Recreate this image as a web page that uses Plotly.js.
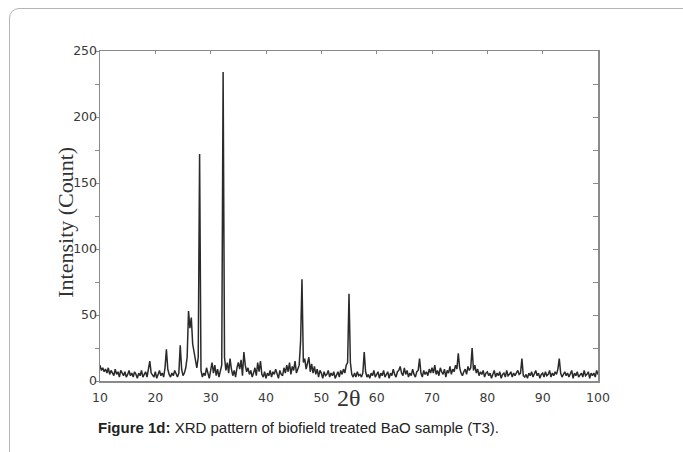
<!DOCTYPE html>
<html>
<head>
<meta charset="utf-8">
<script src="https://cdn.plot.ly/plotly-3.0.1.min.js"></script>
<style>
  html, body { margin: 0; padding: 0; background: #fff; overflow: hidden; }
  #wrap { position: relative; width: 683px; height: 452px; }
  #chart { position: absolute; left: 0; top: 0; width: 683px; height: 452px; }
  #card { position: absolute; left: 9px; top: 8px; width: 760px; height: 520px;
          border: 1px solid #b5b5b5; border-radius: 10px; pointer-events: none; }
</style>
</head>
<body>
<div id="wrap">
  <div id="chart"></div>
  <div id="card"></div>
</div>
<script>
// 2θ sampling: start and step of the measured pattern (degrees)
const twoThetaStart = 10;
const twoThetaStep = 0.25;

// Intensity (Count), one row per degree (x.00, x.25, x.50, x.75)
const intensity = [
  12, 8, 10, 7,     // 10
  9, 6, 10, 5,      // 11
  8, 6, 4, 9,       // 12
  5, 7, 3, 8,       // 13
  6, 4, 7, 3,       // 14
  5, 8, 4, 6,       // 15
  3, 7, 5, 2,       // 16
  6, 4, 8, 3,       // 17
  5, 7, 3, 9,       // 18
  15, 6, 4, 3,      // 19
  7, 2, 5, 8,       // 20
  4, 6, 3, 10,      // 21
  24, 9, 5, 3,      // 22
  6, 4, 8, 5,       // 23
  3, 6, 27, 9,      // 24
  4, 6, 10, 18,     // 25
  53, 40, 48, 28,   // 26
  22, 16, 10, 18,   // 27
  172, 8, 3, 6,     // 28
  4, 10, 5, 2,      // 29
  8, 14, 6, 12,     // 30
  4, 9, 3, 7,       // 31
  12, 234, 18, 8,   // 32
  14, 6, 17, 9,     // 33
  4, 8, 3, 10,      // 34
  14, 9, 16, 4,     // 35
  22, 12, 7, 10,    // 36
  5, 8, 3, 6,       // 37
  10, 4, 14, 7,     // 38
  15, 5, 3, 7,      // 39
  2, 6, 4, 8,       // 40
  3, 7, 5, 9,       // 41
  6, 2, 8, 5,       // 42
  4, 10, 6, 12,     // 43
  7, 14, 5, 11,     // 44
  8, 15, 6, 10,     // 45
  12, 30, 77, 14,   // 46
  17, 9, 14, 18,    // 47
  7, 13, 6, 11,     // 48
  5, 9, 3, 8,       // 49
  6, 2, 7, 4,       // 50
  5, 8, 3, 6,       // 51
  4, 7, 2, 5,       // 52
  7, 3, 8, 5,       // 53
  9, 6, 12, 14,     // 54
  66, 14, 5, 3,     // 55
  6, 3, 7, 4,       // 56
  5, 3, 6, 22,      // 57
  7, 3, 5, 2,       // 58
  6, 4, 8, 3,       // 59
  5, 7, 2, 6,       // 60
  4, 8, 3, 5,       // 61
  7, 2, 6, 4,       // 62
  9, 5, 3, 7,       // 63
  8, 11, 6, 4,      // 64
  10, 5, 8, 3,      // 65
  6, 4, 9, 5,       // 66
  3, 7, 8, 17,      // 67
  6, 3, 8, 5,       // 68
  7, 4, 9, 6,       // 69
  10, 6, 12, 5,     // 70
  8, 4, 10, 7,      // 71
  5, 9, 3, 8,       // 72
  6, 11, 5, 9,      // 73
  7, 12, 9, 21,     // 74
  10, 6, 4, 7,      // 75
  9, 5, 11, 8,      // 76
  10, 25, 8, 12,    // 77
  6, 9, 4, 7,       // 78
  5, 8, 3, 6,       // 79
  7, 4, 6, 2,       // 80
  5, 8, 3, 6,       // 81
  4, 7, 2, 5,       // 82
  6, 3, 8, 4,       // 83
  5, 7, 3, 6,       // 84
  4, 6, 8, 5,       // 85
  6, 17, 4, 3,      // 86
  5, 2, 6, 4,       // 87
  7, 3, 5, 8,       // 88
  4, 6, 2, 5,       // 89
  6, 3, 7, 4,       // 90
  5, 8, 3, 6,       // 91
  4, 7, 5, 9,       // 92
  17, 6, 3, 5,      // 93
  7, 4, 6, 3,       // 94
  5, 8, 2, 6,       // 95
  4, 7, 3, 5,       // 96
  6, 3, 8, 4,       // 97
  5, 7, 2, 6,       // 98
  4, 6, 3, 8,       // 99
  5                 // 100
];

const xRange = [10, 100];
const yRange = [0, 250];
const yTitle = 'Intensity (Count)';
const xTitle = '2θ';
const caption = '<b>Figure 1d:</b> XRD pattern of biofield treated BaO sample (T3).';

const trace = {
  type: 'scatter',
  mode: 'lines',
  x0: twoThetaStart,
  dx: twoThetaStep,
  y: intensity,
  line: { color: '#2a2a2a', width: 1.5 },
  hoverinfo: 'skip',
  showlegend: false
};

const axisLine = '#8a8a8a';
const tickFont = { family: 'DejaVu Sans, Verdana, sans-serif', size: 12.5, color: '#3a3a3a' };

const layout = {
  width: 683,
  height: 452,
  margin: { l: 100, r: 85, t: 51, b: 71 },
  paper_bgcolor: '#ffffff',
  plot_bgcolor: '#ffffff',
  showlegend: false,
  xaxis: {
    range: xRange,
    dtick: 10,
    showgrid: false,
    zeroline: false,
    showline: true,
    linecolor: axisLine,
    linewidth: 1.5,
    ticks: '',
    tickfont: tickFont,
    ticklabelstandoff: 4,
    fixedrange: true
  },
  yaxis: {
    range: yRange,
    dtick: 50,
    showgrid: false,
    zeroline: false,
    showline: true,
    linecolor: axisLine,
    linewidth: 1.5,
    ticks: 'outside',
    ticklen: 4,
    tickcolor: axisLine,
    minor: { dtick: 25, ticks: 'outside', ticklen: 4, tickcolor: axisLine, showgrid: false },
    tickfont: tickFont,
    ticklabelstandoff: -5,
    fixedrange: true
  },
  xaxis2: {
    overlaying: 'x',
    side: 'top',
    range: xRange,
    dtick: 10,
    showgrid: false,
    zeroline: false,
    showline: true,
    linecolor: axisLine,
    linewidth: 1.5,
    ticks: 'inside',
    ticklen: 3,
    tickcolor: axisLine,
    showticklabels: false,
    fixedrange: true
  },
  yaxis2: {
    overlaying: 'y',
    side: 'right',
    range: yRange,
    dtick: 25,
    showgrid: false,
    zeroline: false,
    showline: true,
    linecolor: axisLine,
    linewidth: 1.5,
    ticks: 'inside',
    ticklen: 5,
    tickcolor: axisLine,
    showticklabels: false,
    fixedrange: true
  },
  annotations: [
    {
      text: yTitle, xref: 'paper', yref: 'paper',
      x: -0.07, y: 0.48, xanchor: 'center', yanchor: 'middle',
      textangle: -90, showarrow: false,
      font: { family: 'Liberation Serif, Times New Roman, serif', size: 22, color: '#333' }
    },
    {
      text: xTitle, xref: 'paper', yref: 'paper',
      x: 0.5, y: -0.052, xanchor: 'center', yanchor: 'middle',
      showarrow: false,
      font: { family: 'Liberation Serif, Times New Roman, serif', size: 24, color: '#333' }
    },
    {
      text: caption, xref: 'paper', yref: 'paper',
      x: -0.008, y: -0.142, xanchor: 'left', yanchor: 'middle',
      showarrow: false,
      font: { family: 'Liberation Sans, Arial, sans-serif', size: 15, color: '#222' }
    }
  ]
};

// empty trace so the mirrored top/right axes are drawn
const mirrorAxisTrace = { type: 'scatter', x: [], y: [], xaxis: 'x2', yaxis: 'y2', showlegend: false, hoverinfo: 'skip' };

Plotly.newPlot('chart', [trace, mirrorAxisTrace], layout, { displayModeBar: false, staticPlot: true });
</script>
</body>
</html>
